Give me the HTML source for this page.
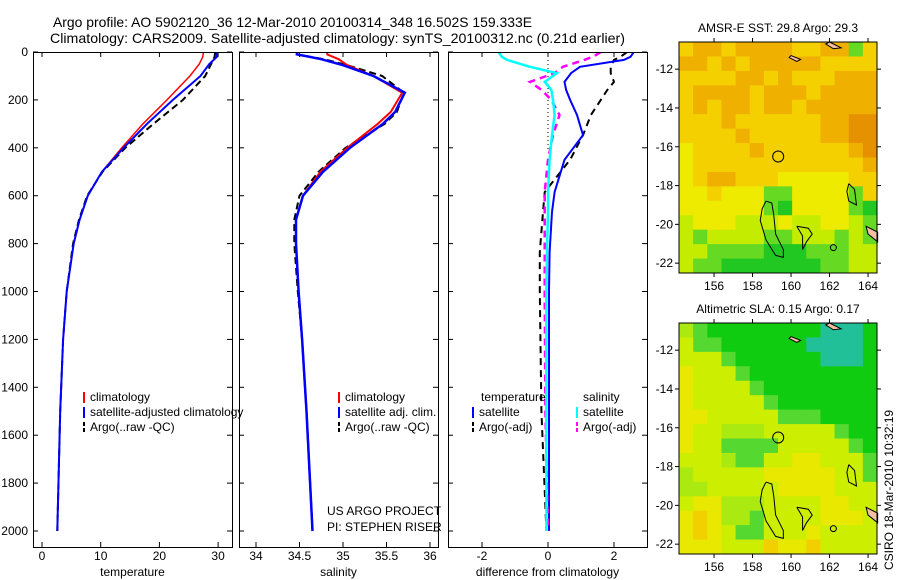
<!DOCTYPE html>
<html><head><meta charset="utf-8"><style>
body{margin:0;background:#fff;}
svg{display:block;font-family:"Liberation Sans",sans-serif;font-size:12px;}
</style></head><body>
<svg id="c" width="900" height="580"></svg>
<script>
const depthsT=[0,20,50,100,200,300,400,500,600,700,800,1000,1200,1500,2000];
const tempClim=[27.5,27.4,26.8,25.2,21.3,17.2,13.6,10.2,7.8,6.4,5.4,4.2,3.6,3.1,2.6];
const tempSat=[29.8,29.8,28.5,27.0,22.3,17.9,13.9,10.2,7.8,6.4,5.4,4.2,3.6,3.1,2.6];
const tempArgo=[29.5,29.4,28.8,27.8,24.0,19.0,14.2,10.3,7.7,6.3,5.3,4.2,3.6,3.1,2.6];
const depthsS=[0,10,30,55,100,170,250,300,400,500,600,700,800,1000,1200,1500,2000];
const salClim=[34.82,34.82,34.95,35.05,35.35,35.68,35.55,35.40,35.05,34.74,34.54,34.46,34.46,34.49,34.53,34.58,34.65];
const salSat=[34.47,34.47,34.75,35.0,35.35,35.71,35.60,35.46,35.08,34.77,34.54,34.46,34.46,34.49,34.53,34.58,34.65];
const salArgo=[34.47,34.47,34.78,35.05,35.45,35.70,35.62,35.48,35.03,34.72,34.50,34.44,34.44,34.48,34.53,34.58,34.65];
const depthsD=[0,20,33,62,88,125,158,200,263,347,450,585,668,835,1000,1500,2000];
const dTempSat=[2.6,2.5,2.3,0.97,0.7,0.5,0.55,0.67,0.88,1.06,0.5,0.2,0.12,0.05,0.03,0.03,0.03];
const dTempArgo=[2.4,2.2,2.0,1.9,1.9,2.0,1.8,1.6,1.3,1.06,0.67,-0.1,-0.15,-0.25,-0.25,-0.2,-0.05];
const dSalSat=[-1.5,-1.4,-1.24,-0.55,0.27,-0.1,0.1,0.15,0.2,0.12,0.05,0.0,0.0,-0.03,-0.05,-0.05,-0.05];
const dSalArgo=[1.6,1.36,1.1,0.45,0.2,-0.55,-0.2,0.1,0.35,0.15,0.0,-0.1,-0.1,-0.1,-0.1,-0.08,0.0];
const depthTicks=[0,200,400,600,800,1000,1200,1400,1600,1800,2000];
const tempTicks=[0,10,20,30];
const salTicks=[34,34.5,35,35.5,36];
const diffTicks=[-2,0,2];
const lonTicks=[156,158,160,162,164];
const latTicks=[-12,-14,-16,-18,-20,-22];
const sstGrid=["45545555445514","55454555554444","44445545444555","45555455545555","45455455455555","44454444445566","44445444445566","34444544444456","34444444444445","34554443333344","33433311333314","33333310333310","23332223223321","21222211222121","22111100011122","21100000001122"];
const slaGrid=["32111111110001","42211111100001","44421111110001","54442111111111","54444211111111","54444421111111","55444442221111","54433344444211","54422224444421","44432244554442","34444455555442","33444445555444","45533344445544","56533244445554","56542244454444","55544465564444"];
const sstColors=["#22c822","#66da22","#c4ec00","#eeea00","#f5d000","#f0b000","#e69200"];
const slaColors=["#22c098","#10cc10","#55d830","#aaea10","#ccee00","#e8e800","#f2d000"];

const S=document.getElementById('c');const NS="http://www.w3.org/2000/svg";
function mk(t,a,p){const e=document.createElementNS(NS,t);for(const k in a)e.setAttribute(k,a[k]);(p||S).appendChild(e);return e;}
function txt(x,y,s,a,p){const e=mk('text',Object.assign({x:x,y:y},a||{}),p);e.textContent=s;return e;}
const Y=d=>52+d*0.2395;
const panels=[{x0:33,x1:232,f:v=>42+v*5.87,ticks:tempTicks,lab:"temperature",name:"temperature-panel"},
{x0:239,x1:438,f:v=>256+(v-34)*87,ticks:salTicks,lab:"salinity",name:"salinity-panel"},
{x0:448,x1:647,f:v=>548+v*33,ticks:diffTicks,lab:"difference from climatology",name:"difference-panel"}];
const t1=txt(53,27,"Argo profile: AO 5902120_36 12-Mar-2010 20100314_348 16.502S 159.333E",{'font-size':14,textLength:479,lengthAdjust:'spacingAndGlyphs'});

const t2=txt(50,43,"Climatology: CARS2009. Satellite-adjusted climatology: synTS_20100312.nc (0.21d earlier)",{'font-size':14,textLength:575,lengthAdjust:'spacingAndGlyphs'});

panels.forEach((p,i)=>{
  const g=mk('g',{});
  const cp=mk('clipPath',{id:'cp'+i},g);mk('rect',{x:p.x0,y:52,width:p.x1-p.x0,height:495},cp);
  p.ticks.forEach(v=>{const x=p.f(v);mk('line',{x1:x,x2:x,y1:52,y2:57,stroke:'#000'},g);mk('line',{x1:x,x2:x,y1:547,y2:542,stroke:'#000'},g);
    const l=txt(x,560,String(v),{'text-anchor':'middle'},g);});
  depthTicks.forEach(d=>{const y=Y(d);mk('line',{x1:p.x0,x2:p.x0+5,y1:y,y2:y,stroke:'#000'},g);mk('line',{x1:p.x1,x2:p.x1-5,y1:y,y2:y,stroke:'#000'},g);
    if(i==0){const l=txt(28,y+4,String(d),{'text-anchor':'end'},g);}});
  const at=txt((p.x0+p.x1)/2,576,p.lab,{'text-anchor':'middle'},g);
  p.g=mk('g',{'clip-path':'url(#cp'+i+')'},g);
  const fr=mk('rect',{x:p.x0+.5,y:52.5,width:p.x1-p.x0,height:495,fill:'none',stroke:'#000'},g);
});
function line(p,ds,vs,col,w,dash,name){const pts=ds.map((d,k)=>p.f(vs[k]).toFixed(1)+','+Y(d).toFixed(1)).join(' ');
  const e=mk('polyline',{points:pts,fill:'none',stroke:col,'stroke-width':w},p.g);if(dash)e.setAttribute('stroke-dasharray',dash);
  }
line(panels[0],depthsT,tempArgo,'#000',2,'7,4','temp-argo-line');
line(panels[0],depthsT,tempClim,'#f00',1.5,null,'temp-climatology-line');
line(panels[0],depthsT,tempSat,'#00f',2,null,'temp-satellite-line');
line(panels[1],depthsS,salArgo,'#000',2,'7,4','sal-argo-line');
line(panels[1],depthsS,salClim,'#f00',2,null,'sal-climatology-line');
line(panels[1],depthsS,salSat,'#00f',2.5,null,'sal-satellite-line');
mk('line',{x1:548,x2:548,y1:52,y2:150,stroke:'#000','stroke-dasharray':'1,3'},panels[2].g);
line(panels[2],depthsD,dTempArgo,'#000',2,'7,5','dtemp-argo-line');
line(panels[2],depthsD,dTempSat,'#00f',2,null,'dtemp-satellite-line');
line(panels[2],depthsD,dSalArgo,'#f0f',2.5,'7,5','dsal-argo-line');
line(panels[2],depthsD,dSalSat,'#0ff',2.5,null,'dsal-satellite-line');
function leg(x,y,col,dash,s,name){const g=mk('g',{});
  const l=mk('line',{x1:x,x2:x,y1:y-9,y2:y+2,stroke:col,'stroke-width':2},g);if(dash)l.setAttribute('stroke-dasharray','4,2');txt(x+6,y,s,{},g);}
leg(84,401,'#f00',0,'climatology','legend-entry-climatology');
leg(84,416,'#00f',0,'satellite-adjusted climatology','legend-entry-satellite');
leg(84,431,'#000',1,'Argo(..raw -QC)','legend-entry-argo');
leg(339,401,'#f00',0,'climatology','legend-entry-climatology');
leg(339,416,'#00f',0,'satellite adj. clim.','legend-entry-satellite');
leg(339,431,'#000',1,'Argo(..raw -QC)','legend-entry-argo');
txt(481,401,'temperature',{});
txt(583,401,'salinity',{});
leg(473,416,'#00f',0,'satellite','legend-entry-dtemp-satellite');
leg(473,431,'#000',1,'Argo(-adj)','legend-entry-dtemp-argo');
leg(577,416,'#0ff',0,'satellite','legend-entry-dsal-satellite');
leg(577,431,'#f0f',1,'Argo(-adj)','legend-entry-dsal-argo');
txt(327,515,'US ARGO PROJECT',{});
txt(327,531,'PI: STEPHEN RISER',{});
const coast=[[[158.7,-18.8],[159.0,-18.9],[159.1,-19.5],[159.2,-20.5],[159.6,-21.3],[159.6,-21.7],[159.2,-21.6],[158.7,-20.8],[158.4,-19.8],[158.5,-19.2],[158.7,-18.8]],
[[160.3,-20.1],[160.9,-20.2],[161.1,-20.5],[160.8,-20.9],[160.6,-21.3],[160.6,-20.6],[160.3,-20.1]],
[[163.0,-17.9],[163.3,-18.2],[163.4,-19.0],[163.0,-18.8],[162.9,-18.3],[163.0,-17.9]]];
const land=[[[162.0,-10.6],[162.6,-10.9],[162.2,-10.95],[161.8,-10.7]],[[163.9,-20.1],[164.5,-20.4],[164.5,-20.9],[164.0,-20.5]],[[160.0,-11.3],[160.5,-11.5],[160.3,-11.6],[159.9,-11.4]]];
function map(top,grid,cols,title,name){
  const g=mk('g',{});
  const x0=679,x1=877,y0=top,y1=top+231;
  const X=l=>679+(l-154.18)*19.25, YY=la=>top+(-10.6-la)*19.4;
  const nr=grid.length,nc=grid[0].length,cw=(x1-x0)/nc,ch=(y1-y0)/nr;
  grid.forEach((r,ri)=>{for(let ci=0;ci<nc;ci++){const c=mk('rect',{x:x0+ci*cw,y:y0+ri*ch,width:cw+.5,height:ch+.5,fill:cols[+r[ci]]},g);
    }});
  land.forEach(pl=>mk('polygon',{points:pl.map(p=>X(p[0])+','+YY(p[1])).join(' '),fill:'#f5c0a0',stroke:'#000'},g));
  coast.forEach(pl=>mk('polyline',{points:pl.map(p=>X(p[0])+','+YY(p[1])).join(' '),fill:'none',stroke:'#000'},g));
  mk('circle',{cx:X(162.2),cy:YY(-21.2),r:3,fill:'none',stroke:'#000'},g);
  const m=mk('circle',{cx:X(159.333),cy:YY(-16.502),r:5.5,fill:'none',stroke:'#000'},g);
  mk('rect',{x:x0,y:y0,width:x1-x0,height:y1-y0,fill:'none',stroke:'#000'},g);
  lonTicks.forEach(l=>{const x=X(l);mk('line',{x1:x,x2:x,y1:y0,y2:y0-4,stroke:'#000'},g);mk('line',{x1:x,x2:x,y1:y1,y2:y1+4,stroke:'#000'},g);
    const t=txt(x,y1+17,String(l),{'text-anchor':'middle'},g);});
  latTicks.forEach(l=>{const y=YY(l);mk('line',{x1:x0,x2:x0-4,y1:y,y2:y,stroke:'#000'},g);mk('line',{x1:x1,x2:x1+4,y1:y,y2:y,stroke:'#000'},g);
    const t=txt(x0-6,y+4,String(l),{'text-anchor':'end'},g);});
  const tt=txt(778,y0-10,title,{'text-anchor':'middle'},g);
}
map(42,sstGrid,sstColors,'AMSR-E SST: 29.8 Argo: 29.3','sst-map');
map(323,slaGrid,slaColors,'Altimetric SLA: 0.15 Argo: 0.17','sla-map');
const st=txt(0,0,'CSIRO 18-Mar-2010 10:32:19',{transform:'translate(893,570) rotate(-90)'});

</script>
</body></html>
